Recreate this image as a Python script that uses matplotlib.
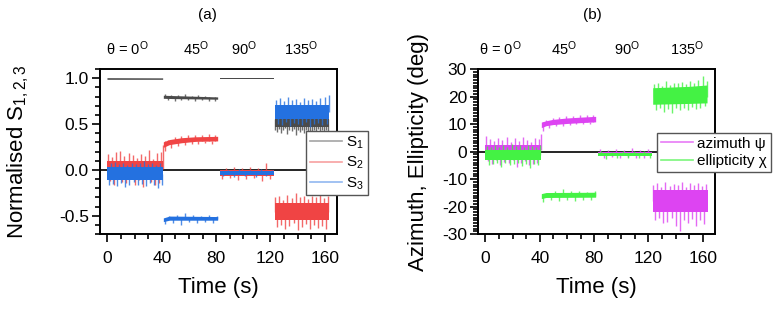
import numpy as np
import matplotlib
matplotlib.use('Agg')
import matplotlib.pyplot as plt
from matplotlib.lines import Line2D
from matplotlib.ticker import MultipleLocator, FormatStrFormatter

plt.rcParams['font.family'] = ['Liberation Sans', 'DejaVu Sans']
plt.rcParams['mathtext.fontset'] = 'custom'
plt.rcParams['mathtext.rm'] = 'Liberation Sans'
plt.rcParams['mathtext.it'] = 'Liberation Sans:italic'
plt.rcParams['mathtext.bf'] = 'Liberation Sans:bold'
plt.rcParams['axes.unicode_minus'] = False

nan = np.nan
# start time of each polarisation step (0, 45, 90, 135 deg)
seg_edges = [0, 41.25, 82, 122.8]
angle_labels = ['θ = 0$^{\\mathrm{O}}$', '45$^{\\mathrm{O}}$', '90$^{\\mathrm{O}}$', '135$^{\\mathrm{O}}$']

tg1a = [0.5, 2, 3.5, 5, 6.5, 8, 9.5, 11, 12.5, 14, 15.5, 17, 18.5, 20, 21.5, 23, 24.5, 26,
        27.5, 29, 30.5, 32, 33.5, 35, 36.5, 38, 39.5]
tg1b = [1.2, 2.7, 4.2, 5.7, 7.2, 8.7, 10.2, 11.7, 13.2, 14.7, 16.2, 17.7, 19.2, 20.7, 22.2,
        23.7, 25.2, 26.7, 28.2, 29.7, 31.2, 32.7, 34.2, 35.7, 37.2, 38.7, 40.2]
tg2a = [42, 44.5, 47, 49.5, 52, 54.5, 57, 59.5, 62, 64.5, 67, 69.5, 72, 74.5, 77, 79.5]
tg2b = [42, 45, 48, 51, 54, 57, 60, 63, 66, 69, 72, 75, 78, 81]
tg3a = [84, 87, 90, 93, 96, 99, 102, 105, 108, 111, 114, 117, 120]
tg3b = [85, 89, 93, 97, 101, 105, 109, 113, 117, 121]
tg4a = [123.5, 125, 126.5, 128, 129.5, 131, 132.5, 134, 135.5, 137, 138.5, 140, 141.5, 143,
        144.5, 146, 147.5, 149, 150.5, 152, 153.5, 155, 156.5, 158, 159.5, 161, 162.5]
tg4b = [123.8, 125.3, 126.8, 128.3, 129.8, 131.3, 132.8, 134.3, 135.8, 137.3, 138.8, 140.3,
        141.8, 143.3, 144.8, 146.3, 147.8, 149.3, 150.8, 152.3, 153.8, 155.3, 156.8, 158.3,
        159.8, 161.3, 162.8]

# ---- (a) normalised Stokes parameters: core band (lo/hi), segment level, excursions
s1_t = [0, 41, nan, 41.5, 48, 81.5, nan, 82.5, 122.5, nan, 123, 163]
s1_lo = [0.982, 0.982, nan, 0.775, 0.772, 0.765, nan, 0.994, 0.994, nan, 0.47, 0.47]
s1_hi = [1.000, 0.998, nan, 0.808, 0.805, 0.790, nan, 1.004, 1.004, nan, 0.62, 0.62]
s1_level = [0.99, 0.79, 1.0, 0.55]
s1_spk_t = tg2a + tg4a
s1_spk_y = [0.83, 0.76, 0.82, 0.75, 0.815, 0.765, 0.83, 0.76, 0.81, 0.755, 0.815, 0.76,
            0.805, 0.75, 0.80, 0.755,
            0.44, 0.41, 0.45, 0.40, 0.43, 0.46, 0.39, 0.44, 0.42, 0.45, 0.38, 0.43, 0.41,
            0.44, 0.40, 0.43, 0.37, 0.42, 0.39, 0.44, 0.41, 0.45, 0.38, 0.43, 0.40, 0.44, 0.42]

s2_t = [0, 41, nan, 41.5, 46, 55, 65, 81.5, nan, 82.5, 122.5, nan, 123, 163]
s2_lo = [-0.07, -0.07, nan, 0.24, 0.27, 0.29, 0.305, 0.31, nan, -0.065, -0.065, nan, -0.55, -0.55]
s2_hi = [0.10, 0.10, nan, 0.30, 0.325, 0.345, 0.355, 0.36, nan, -0.005, -0.005, nan, -0.36, -0.36]
s2_level = [0.01, 0.31, -0.035, -0.455]
s2_spk_t = tg1a + [41.2] + tg2a + tg3a + tg4a
s2_spk_y = [0.17, -0.12, 0.14, -0.16, 0.19, -0.10, 0.21, -0.13, 0.15, -0.14, 0.18, -0.09,
            0.16, -0.17, 0.13, -0.11, 0.17, -0.19, 0.15, -0.10, 0.22, -0.13, 0.12, -0.17,
            0.18, -0.14, 0.20, 0.27,
            0.21, 0.33, 0.24, 0.36, 0.26, 0.37, 0.27, 0.38, 0.28, 0.375, 0.285, 0.385, 0.29,
            0.39, 0.28, 0.38,
            -0.10, 0.02, -0.09, 0.03, -0.11, 0.02, -0.10, 0.03, -0.09, 0.02, -0.12, 0.07, -0.10,
            -0.30, -0.62, -0.28, -0.60, -0.33, -0.64, -0.27, -0.61, -0.31, -0.58, -0.25, -0.66,
            -0.30, -0.62, -0.29, -0.59, -0.32, -0.65, -0.28, -0.60, -0.30, -0.63, -0.27, -0.61,
            -0.31, -0.64, -0.29]

s3_t = [0, 41, nan, 41.5, 46, 81.5, nan, 82.5, 122.5, nan, 123, 163]
s3_lo = [-0.11, -0.11, nan, -0.57, -0.555, -0.555, nan, -0.055, -0.055, nan, 0.55, 0.55]
s3_hi = [0.03, 0.03, nan, -0.53, -0.51, -0.515, nan, -0.015, -0.015, nan, 0.71, 0.71]
s3_level = [-0.04, -0.535, -0.035, 0.63]
s3_spk_t = tg1b + tg2b + tg3b + tg4b
s3_spk_y = [-0.17, 0.07, -0.15, 0.09, -0.18, 0.06, -0.14, 0.08, -0.19, 0.05, -0.16, 0.08,
            -0.13, 0.06, -0.17, 0.07, -0.15, 0.10, -0.18, 0.06, -0.14, 0.08, -0.17, 0.05,
            -0.20, 0.07, -0.16,
            -0.59, -0.50, -0.58, -0.49, -0.60, -0.47, -0.57, -0.49, -0.58, -0.50, -0.57, -0.49,
            -0.58, -0.50,
            -0.07, 0.0, -0.08, 0.01, -0.07, 0.0, -0.08, 0.01, -0.07, 0.0,
            0.76, 0.50, 0.78, 0.49, 0.75, 0.52, 0.79, 0.48, 0.76, 0.51, 0.77, 0.50, 0.74, 0.49,
            0.78, 0.52, 0.76, 0.47, 0.77, 0.50, 0.75, 0.51, 0.78, 0.49, 0.80, 0.50, 0.82]

# ---- (b) azimuth and ellipticity (deg)
az_t = [0, 41, nan, 41.5, 45, 50, 60, 70, 81.5, nan, 82.5, 122.5, nan, 123.5, 163.5]
az_lo = [-1.5, -1.5, nan, 8.5, 9.2, 9.6, 10.0, 10.3, 10.6, nan, -1.6, -1.6, nan, -22, -22]
az_hi = [2.5, 2.5, nan, 10.5, 11.0, 11.5, 12.0, 12.3, 12.6, nan, 0, 0, nan, -14, -14]
az_level = [0.5, 10.8, -0.8, -18]
az_spk_t = tg1a + [40.8] + tg2a + tg3a + tg4a
az_spk_y = [5.5, -3.5, 4.5, -4.5, 3.8, -3, 5, -5, 4.2, -3.8, 5.2, -4, 3.5, -3.2, 4.8, -5.5,
            4, -4.2, 5.3, -3.5, 4.1, -4.8, 3.6, -4.5, 5, -4, 4.5, 6.5,
            7.3, 11.6, 8.6, 12.3, 9.2, 12.6, 9.4, 13, 9.6, 12.9, 9.9, 13.3, 10, 13.2, 10.1, 13.4,
            0.8, -2.3, 0.5, -2.0, 1.0, -2.4, 0.6, -2.1, 1.2, -2.2, 0.7, -2.5, 0.9,
            -12, -25, -11.5, -24, -13, -26, -11, -25.5, -12.5, -24, -11.8, -27, -12.2, -29,
            -11.2, -25, -12.8, -26, -11.5, -24.5, -12, -27, -11.3, -25, -12.5, -26.5, -11.8]

el_t = [0, 41, nan, 41.5, 45, 81.5, nan, 82.5, 122.5, nan, 123.5, 150, 163.5]
el_lo = [-3, -3, nan, -17.3, -16.9, -16.8, nan, -1.8, -1.8, nan, 17.0, 17.3, 17.5]
el_hi = [0.5, 0.5, nan, -15.5, -15.1, -15.0, nan, -0.5, -0.5, nan, 23.0, 23.5, 24.0]
el_level = [-1.2, -16.0, -1.1, 20]
el_spk_t = tg1b + tg2b + tg3b + tg4b
el_spk_y = [2, -5, 1.5, -4.5, 2.5, -4, 1.8, -5.5, 2.2, -4.2, 1.6, -5, 2.8, -4.5, 1.9, -4,
            2.3, -5.2, 1.7, -4.6, 2.5, -6, 2, -4.4, 1.8, -5, 2.4,
            -18.3, -15, -17.8, -14.3, -18, -13.8, -17.6, -14.5, -17.9, -14.3, -17.7, -14.6,
            -17.8, -14.5,
            0.2, -2.6, 0.0, -2.4, 0.3, -2.5, 0.1, -2.3, 0.2, -2.5,
            24.5, 15, 25, 16, 24, 14.5, 25.5, 15.5, 24.2, 14, 25, 16, 24.8, 15.2, 25.3, 15.8,
            24.6, 15, 25.8, 16.2, 24.9, 15.5, 26, 16, 27.5, 16.5, 25.5]

c_s1, c_s2, c_s3 = '#4a4a4a', '#f04444', '#2471e0'
c_az, c_el = '#dd44f2', '#44f244'


def band(ax, t, lo, hi, level, spk_t, spk_y, color):
    ax.fill_between(np.array(t), np.array(lo), np.array(hi), color=color, lw=0, zorder=2)
    idx = np.digitize(spk_t, seg_edges) - 1
    base = np.array(level)[idx]
    ax.vlines(spk_t, base, spk_y, color=color, lw=1.0, alpha=0.8, zorder=2)


def style(ax):
    ax.set_xlim(-5.5, 169)
    ax.xaxis.set_major_locator(MultipleLocator(40))
    ax.xaxis.set_minor_locator(MultipleLocator(10))
    ax.tick_params(which='major', direction='out', length=6, width=1.2, labelsize=12.5)
    ax.tick_params(which='minor', direction='out', length=3.5, width=1.2)
    ax.tick_params(axis='x', which='major', pad=6)
    ax.tick_params(axis='y', which='major', pad=2)
    for sp in ax.spines.values():
        sp.set_linewidth(1.4)
    ax.axhline(0, color='black', lw=1.2, zorder=1)
    ax.set_xlabel('Time (s)', fontsize=16, labelpad=8)


fig = plt.figure(figsize=(7.8, 3.21), dpi=100)
ax1 = fig.add_axes([100 / 780, 87 / 321, 237 / 780, 165 / 321])
ax2 = fig.add_axes([478 / 780, 87 / 321, 237 / 780, 165 / 321])

band(ax1, s1_t, s1_lo, s1_hi, s1_level, s1_spk_t, s1_spk_y, c_s1)
band(ax1, s2_t, s2_lo, s2_hi, s2_level, s2_spk_t, s2_spk_y, c_s2)
band(ax1, s3_t, s3_lo, s3_hi, s3_level, s3_spk_t, s3_spk_y, c_s3)
style(ax1)
ax1.set_ylim(-0.7, 1.1)
ax1.yaxis.set_major_locator(MultipleLocator(0.5))
ax1.yaxis.set_minor_locator(MultipleLocator(0.1))
ax1.yaxis.set_major_formatter(FormatStrFormatter('%.1f'))
ax1.set_ylabel('Normalised S$_{1,2,3}$', fontsize=16, labelpad=20)

band(ax2, az_t, az_lo, az_hi, az_level, az_spk_t, az_spk_y, c_az)
band(ax2, el_t, el_lo, el_hi, el_level, el_spk_t, el_spk_y, c_el)
style(ax2)
ax2.set_ylim(-30, 30)
ax2.yaxis.set_major_locator(MultipleLocator(10))
ax2.yaxis.set_minor_locator(MultipleLocator(1))
ax2.set_ylabel('Azimuth, Ellipticity (deg)', fontsize=16, labelpad=9)

# angle labels above each panel
for ax, xs in [(ax1, [14.6, 65.1, 100.7, 142.6]), (ax2, [11.2, 58.0, 104.2, 148.6])]:
    for x, lab in zip(xs, angle_labels):
        ax.text(x, 1.085, lab, transform=ax.get_xaxis_transform(),
                ha='center', va='baseline', fontsize=10.5)

fig.text(207 / 780, 1 - 15.5 / 321, '(a)', ha='center', va='center', fontsize=11)
fig.text(592 / 780, 1 - 15.5 / 321, '(b)', ha='center', va='center', fontsize=11)

leg_kw = dict(loc='upper left', bbox_transform=fig.transFigure, borderaxespad=0,
              fontsize=11, fancybox=False, framealpha=1, edgecolor='#555555',
              handlelength=2.1, handletextpad=0.3, borderpad=0.25, labelspacing=0.25)
h1 = [Line2D([], [], color=c, lw=1.2, alpha=0.5) for c in (c_s1, c_s2, c_s3)]
l1 = ax1.legend(h1, ['S$_1$', 'S$_2$', 'S$_3$'], bbox_to_anchor=(306 / 780, 1 - 131 / 321), **leg_kw)
l1.get_frame().set_linewidth(1.0)
l1.set_zorder(5)
h2 = [Line2D([], [], color=c, lw=1.2, alpha=0.7) for c in (c_az, c_el)]
l2 = ax2.legend(h2, ['azimuth ψ', 'ellipticity χ'], bbox_to_anchor=(656.7 / 780, 1 - 132.7 / 321), **leg_kw)
l2.get_frame().set_linewidth(1.0)
l2.set_zorder(5)

fig.savefig('out.png', dpi=100)
